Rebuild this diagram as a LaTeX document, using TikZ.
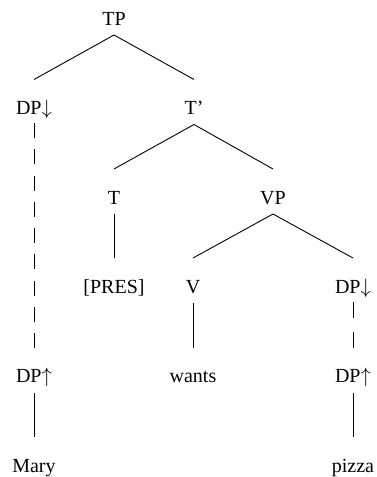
\documentclass[tikz,border=0pt]{standalone}
\usepackage{fontspec}
\setmainfont{Liberation Serif}
\begin{document}
\begin{tikzpicture}[x=1pt,y=-1pt,
  lbl/.style={anchor=base,inner sep=0pt,outer sep=0pt,text height=14pt,text depth=4pt,font=\fontsize{20}{24}\selectfont},
  edge/.style={line width=0.9pt},
  movedash/.style={line width=0.9pt,dash pattern=on 15pt off 11.25pt}]
\useasboundingbox (0,0) rectangle (376,477);
% row baselines: 25, 114.5, 204, 293, 382.5, 472
\node[lbl] (tp)    at (114,25)    {TP};
\node[lbl] (dpa)   at (34,114.5)  {DP$\downarrow$};
\node[lbl] (tbar)  at (194,114.5) {T’};
\node[lbl] (t)     at (114,204)   {T};
\node[lbl] (vp)    at (273,204)   {VP};
\node[lbl] (pres)  at (114,293)   {[PRES]};
\node[lbl] (v)     at (193,293)   {V};
\node[lbl] (dpb)   at (353,293)   {DP$\downarrow$};
\node[lbl] (dpc)   at (34,382.5)  {DP$\uparrow$};
\node[lbl] (wants) at (193,382.5) {wants};
\node[lbl] (dpd)   at (353,382.5) {DP$\uparrow$};
\node[lbl] (mary)  at (34,472)    {Mary};
\node[lbl] (pizza) at (353,472)   {pizza};
% edges
\draw[edge] ([yshift=-6pt]tp.south) -- ([yshift=21pt]dpa.north);
\draw[edge] ([yshift=-6pt]tp.south) -- ([yshift=21pt]tbar.north);
\draw[edge] ([yshift=-6pt]tbar.south) -- ([yshift=21pt]t.north);
\draw[edge] ([yshift=-6pt]tbar.south) -- ([yshift=21pt]vp.north);
\draw[edge] ([yshift=-6pt]t.south) -- ([yshift=21pt]pres.north);
\draw[edge] ([yshift=-6pt]vp.south) -- ([yshift=21pt]v.north);
\draw[edge] ([yshift=-6pt]vp.south) -- ([yshift=21pt]dpb.north);
\draw[edge] ([yshift=-6pt]v.south) -- ([yshift=21pt]wants.north);
\draw[edge] ([yshift=-6pt]dpc.south) -- ([yshift=21pt]mary.north);
\draw[edge] ([yshift=-6pt]dpd.south) -- ([yshift=21pt]pizza.north);
% dashed movement links
\draw[movedash] ([yshift=-4.5pt]dpa.south) -- ([yshift=20.5pt]dpc.north);
\draw[movedash,dash pattern=on 16pt off 14pt] ([yshift=-5pt]dpb.south) -- ([yshift=20.5pt]dpd.north);
\end{tikzpicture}
\end{document}
